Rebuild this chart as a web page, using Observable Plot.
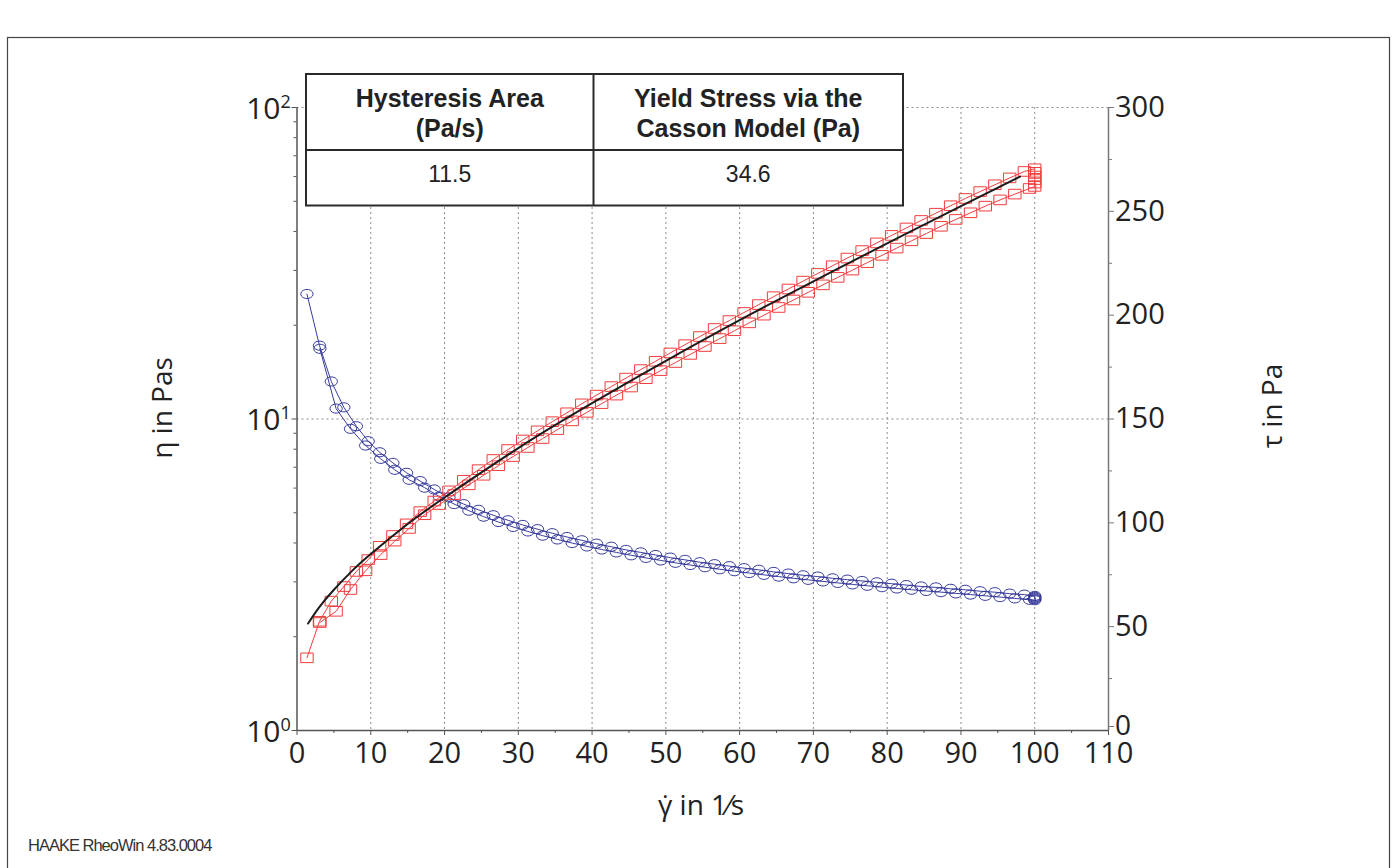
<!DOCTYPE html>
<html><head><meta charset="utf-8">
<script src="https://cdn.jsdelivr.net/npm/d3@7"></script>
<script src="https://cdn.jsdelivr.net/npm/@observablehq/plot@0.6"></script>
<style>
html,body{margin:0;padding:0;background:#fff;overflow:hidden;}
#page{position:relative;width:1397px;height:868px;background:#fff;}
#page svg{position:absolute;left:0;top:0;}
</style>
</head><body><div id="page"></div>
<script>
// ---------- data ----------
const upRate = [1.35, 3.05, 4.65, 6.35, 8.05, 9.65, 11.2, 13.0, 14.85, 16.7, 18.6, 20.6, 22.6, 24.6, 26.6, 28.6, 30.6, 32.6, 34.6, 36.6, 38.6, 40.6, 42.6, 44.6, 46.6, 48.6, 50.6, 52.6, 54.6, 56.6, 58.6, 60.6, 62.6, 64.6, 66.6, 68.6, 70.6, 72.6, 74.6, 76.6, 78.6, 80.6, 82.6, 84.6, 86.6, 88.6, 90.6, 92.6, 94.6, 96.6, 98.6];
const upStress = [35.0, 52.6, 62.3, 69.3, 76.6, 82.3, 88.7, 93.9, 99.5, 105.4, 110.5, 115.4, 120.5, 125.6, 130.5, 135.3, 139.9, 144.3, 148.7, 153.0, 157.3, 161.5, 165.6, 169.7, 173.8, 177.8, 181.8, 185.8, 189.7, 193.6, 197.4, 201.3, 205.1, 208.9, 212.6, 216.4, 220.1, 223.8, 227.5, 231.1, 234.8, 238.4, 242.0, 245.6, 249.1, 252.7, 256.2, 259.5, 262.8, 266.1, 269.2];
const upVisc = [25.2, 17.2, 13.2, 10.9, 9.48, 8.49, 7.82, 7.23, 6.72, 6.32, 5.94, 5.60, 5.33, 5.11, 4.91, 4.73, 4.57, 4.43, 4.30, 4.18, 4.08, 3.98, 3.89, 3.80, 3.73, 3.66, 3.59, 3.53, 3.47, 3.42, 3.37, 3.32, 3.28, 3.23, 3.19, 3.15, 3.12, 3.08, 3.05, 3.02, 2.99, 2.96, 2.93, 2.90, 2.88, 2.85, 2.83, 2.80, 2.78, 2.75, 2.73];

const holdRate = [100, 100, 100, 100, 100, 100];
const holdStress = [270.5, 268.8, 267.0, 265.3, 263.6, 262.0];
const holdVisc = [2.705, 2.688, 2.670, 2.653, 2.636, 2.620];

const downRate = [99.3, 97.3, 95.3, 93.3, 91.3, 89.3, 87.3, 85.3, 83.3, 81.3, 79.3, 77.3, 75.3, 73.3, 71.3, 69.3, 67.3, 65.3, 63.3, 61.3, 59.3, 57.3, 55.3, 53.3, 51.3, 49.3, 47.3, 45.3, 43.3, 41.3, 39.3, 37.3, 35.3, 33.3, 31.3, 29.3, 27.3, 25.3, 23.3, 21.3, 19.3, 17.3, 15.2, 13.25, 11.35, 9.3, 7.25, 5.3, 3.1];
const downStress = [261.0, 258.3, 255.5, 252.5, 249.3, 246.1, 242.8, 239.3, 235.8, 232.3, 228.8, 225.3, 221.7, 218.2, 214.6, 211.0, 207.3, 203.7, 200.0, 196.3, 192.5, 188.7, 184.9, 181.1, 177.2, 173.3, 169.4, 165.4, 161.5, 157.4, 153.2, 149.1, 144.9, 140.6, 136.3, 131.9, 127.5, 122.9, 118.3, 113.6, 108.8, 103.9, 97.3, 91.2, 84.7, 76.9, 67.9, 57.4, 52.0];
const downVisc = [2.628, 2.655, 2.681, 2.706, 2.731, 2.756, 2.781, 2.805, 2.831, 2.857, 2.885, 2.915, 2.944, 2.977, 3.010, 3.045, 3.080, 3.119, 3.160, 3.202, 3.246, 3.293, 3.344, 3.398, 3.454, 3.515, 3.581, 3.651, 3.730, 3.811, 3.898, 3.997, 4.105, 4.222, 4.355, 4.502, 4.670, 4.858, 5.077, 5.333, 5.637, 6.02, 6.38, 6.87, 7.45, 8.22, 9.30, 10.8, 16.8];

// Casson model fit line
const fitRate = [1.5, 3, 5, 7.5, 10, 15, 20, 30, 40, 50, 60, 70, 80, 90, 98];
const fitStress = [51.5, 59.3, 67.8, 77.0, 85.0, 99.4, 112.2, 136.0, 157.6, 178.0, 197.6, 216.3, 234.6, 252.5, 266.7];

// axes / ticks
const xTicks = [0, 10, 20, 30, 40, 50, 60, 70, 80, 90, 100, 110];
const xMinorTicks = [5, 15, 25, 35, 45, 55, 65, 75, 85, 95, 105];
const xGrid = [10, 20, 30, 40, 50, 60, 70, 80, 90, 100];
const etaDecades = [1, 10, 100];
const etaExponents = ["0", "1", "2"];
const etaMinor = [2, 3, 4, 5, 6, 7, 8, 9, 20, 30, 40, 50, 60, 70, 80, 90];
const etaGrid = [10, 100];
const tauTicks = [50, 100, 150, 200, 250, 300];
const tauZero = [0];
const tauMinor = [25, 75, 125, 175, 225, 275];

// table and texts
const tableHeaders = [["Hysteresis Area", "(Pa/s)"], ["Yield Stress via the", "Casson Model (Pa)"]];
const tableValues = ["11.5", "34.6"];
const xTitle = "\u03B3\u0307 in 1\u2044s";
const yLeftTitle = "\u03B7 in Pas";
const yRightTitle = "\u03C4 in Pa";
const footer = "HAAKE RheoWin 4.83.0004";

// ---------- build ----------
const rows = [
  ...upRate.map((r, i) => ({rate: r, visc: upVisc[i], stress: upStress[i]})),
  ...holdRate.map((r, i) => ({rate: r, visc: holdVisc[i], stress: holdStress[i]})),
  ...downRate.map((r, i) => ({rate: r, visc: downVisc[i], stress: downStress[i]}))
];
const fitRows = fitRate.map((r, i) => ({rate: r, stress: fitStress[i]}));

const blue = "#383c9c", red = "#f23c3c";
const ff = "'Open Sans', 'DejaVu Sans', sans-serif";
const ellipseSymbol = {draw(ctx) {
  const n = 14, rx = 6.2, ry = 4.6;
  for (let i = 0; i < n; i++) {
    const a = 2 * Math.PI * i / n;
    const px = rx * Math.cos(a), py = ry * Math.sin(a);
    if (i) ctx.lineTo(px, py); else ctx.moveTo(px, py);
  }
  ctx.closePath();
}};
const rectSymbol = {draw(ctx) {
  ctx.moveTo(-6.2, -4.8); ctx.lineTo(6.2, -4.8); ctx.lineTo(6.2, 4.8); ctx.lineTo(-6.2, 4.8); ctx.closePath();
}};

const common = {
  width: 1397, height: 868,
  marginLeft: 296.5, marginRight: 289, marginTop: 107, marginBottom: 138,
  style: {background: "transparent", fontFamily: ff, color: "#222", overflow: "visible"}
};
const gridStyle = {stroke: "#8c8c8c", strokeOpacity: 1, strokeWidth: 1, strokeDasharray: "2,3"};

const plotEta = Plot.plot({
  ...common,
  x: {domain: [0, 110], axis: null},
  y: {type: "log", domain: [1, 100], axis: null},
  marks: [
    Plot.gridX(xGrid, gridStyle),
    Plot.gridY(etaGrid, gridStyle),
    Plot.ruleY([1], {stroke: "#555", strokeWidth: 1.5}),
    Plot.ruleX([0], {stroke: "#555", strokeWidth: 1.5}),
    Plot.axisX(xTicks, {tickSize: 5, tickPadding: 6.5, fontSize: 29, stroke: "#555", fill: "#222", label: null}),
    Plot.axisX(xMinorTicks, {tickSize: 3, tickFormat: () => "", stroke: "#555", label: null}),
    Plot.axisY(etaDecades, {tickSize: 5, tickFormat: () => "", stroke: "#555", label: null}),
    Plot.axisY(etaMinor, {tickSize: 3, tickFormat: () => "", stroke: "#555", label: null}),
    Plot.text(etaDecades, {y: d => d, frameAnchor: "left", text: () => "10", textAnchor: "end", lineAnchor: "bottom", dx: -16.5, dy: 11, fontSize: 30, fill: "#222"}),
    Plot.text(etaDecades, {y: d => d, frameAnchor: "left", text: (d, i) => etaExponents[i], textAnchor: "start", lineAnchor: "bottom", dx: -16.5, dy: 0, fontSize: 18, fill: "#222"}),
    Plot.line(rows, {x: "rate", y: "visc", stroke: blue, strokeWidth: 1}),
    Plot.dot(rows, {x: "rate", y: "visc", symbol: ellipseSymbol, r: 5, stroke: blue, fill: "none", strokeWidth: 1})
  ]
});

const plotTau = Plot.plot({
  ...common,
  x: {domain: [0, 110], axis: null},
  y: {domain: [0, 300], axis: null},
  marks: [
    Plot.ruleX([110], {stroke: "#777", strokeWidth: 1.5}),
    Plot.axisY(tauTicks, {anchor: "right", tickSize: 5, tickPadding: 1.5, fontSize: 29, stroke: "#777", fill: "#222", label: null}),
    Plot.axisY(tauZero, {anchor: "right", tickSize: 5, tickPadding: 1.5, dy: -4, fontSize: 28, stroke: "#777", fill: "#222", label: null}),
    Plot.axisY(tauMinor, {anchor: "right", tickSize: 3, tickFormat: () => "", stroke: "#777", label: null}),
    Plot.line(rows, {x: "rate", y: "stress", stroke: red, strokeWidth: 1}),
    Plot.dot(rows, {x: "rate", y: "stress", symbol: rectSymbol, r: 5, stroke: red, fill: "none", strokeWidth: 1}),
    Plot.line(fitRows, {x: "rate", y: "stress", stroke: "#1c1c1c", strokeWidth: 2, curve: "natural"})
  ]
});

const page = document.getElementById("page");
page.appendChild(plotEta);
page.appendChild(plotTau);

// ---------- overlay: frame, titles, table, footer ----------
const svg = d3.select(page).append("svg")
  .attr("width", 1397).attr("height", 868)
  .style("pointer-events", "none");

svg.append("rect").attr("x", 7.5).attr("y", 37.5).attr("width", 1382).attr("height", 900)
  .attr("fill", "none").attr("stroke", "#444").attr("stroke-width", 1.2);

const title = (txt, x, y, rot) => svg.append("text")
  .attr("transform", `translate(${x},${y})` + (rot ? " rotate(-90)" : ""))
  .attr("text-anchor", "middle").attr("font-family", ff).attr("font-size", 28).attr("fill", "#222")
  .text(txt);
title(xTitle, 701, 815, false);
title(yLeftTitle, 171.5, 408, true);
title(yRightTitle, 1281.5, 406, true);

// table
const tb = {x0: 306, x1: 903, xm: 593.5, y0: 74, ym: 150, y1: 205.5};
const tg = svg.append("g").attr("stroke", "#2a2a2a").attr("stroke-width", 2).attr("fill", "none");
tg.append("rect").attr("x", tb.x0).attr("y", tb.y0).attr("width", tb.x1 - tb.x0).attr("height", tb.y1 - tb.y0).attr("fill", "#fff");
tg.append("line").attr("x1", tb.x0).attr("x2", tb.x1).attr("y1", tb.ym).attr("y2", tb.ym);
tg.append("line").attr("x1", tb.xm).attr("x2", tb.xm).attr("y1", tb.y0).attr("y2", tb.y1);
const tff = "'Liberation Sans', Arial, Helvetica, sans-serif";
const colCenters = [(tb.x0 + tb.xm) / 2, (tb.xm + tb.x1) / 2];
tableHeaders.forEach((lines, c) => {
  lines.forEach((ln, k) => {
    svg.append("text").attr("x", colCenters[c]).attr("y", 106.5 + k * 30)
      .attr("text-anchor", "middle").attr("font-family", tff).attr("font-weight", "bold")
      .attr("font-size", 25).attr("fill", "#222").text(ln);
  });
  svg.append("text").attr("x", colCenters[c]).attr("y", 181.5)
    .attr("text-anchor", "middle").attr("font-family", tff)
    .attr("font-size", 23).attr("fill", "#222").text(tableValues[c]);
});

svg.append("text").attr("x", 28).attr("y", 850.5).attr("font-family", tff)
  .attr("font-size", 16.5).attr("letter-spacing", -1).attr("fill", "#333").text(footer);
</script>
</body></html>
